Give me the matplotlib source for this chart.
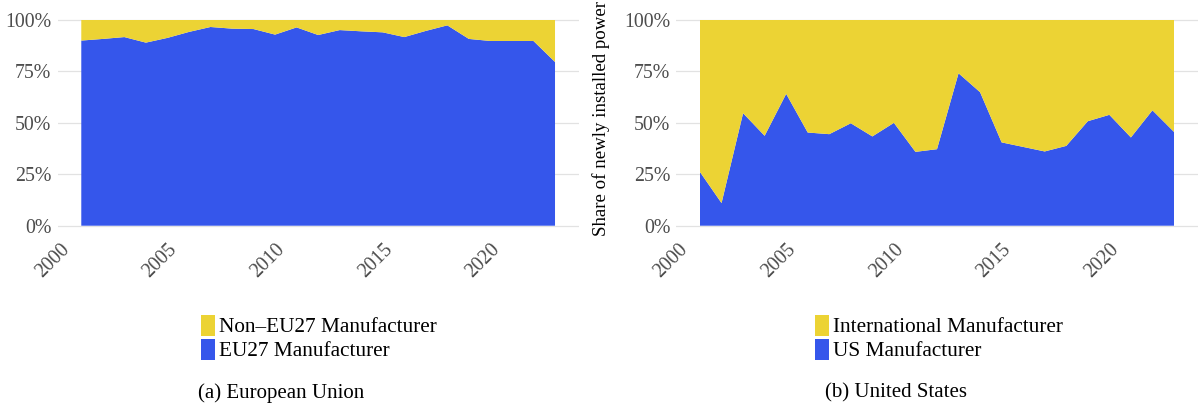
import numpy as np
import matplotlib
matplotlib.use('Agg')
import matplotlib.pyplot as plt
from matplotlib.ticker import PercentFormatter
from matplotlib.patches import Patch

plt.rcParams['font.family'] = ['Liberation Serif', 'DejaVu Serif']

years = np.arange(2001, 2024)

# share of newly installed power built by domestic manufacturers (%)
eu_share = [90.0, 90.8, 91.7, 89.0, 91.3, 94.2, 96.6, 95.8, 95.6, 92.9, 96.4, 92.7,
            95.1, 94.5, 94.0, 91.7, 94.7, 97.4, 90.8, 89.8, 89.8, 89.8, 79.6]
us_share = [26.1, 11.0, 54.7, 43.7, 64.1, 45.3, 44.5, 49.8, 43.4, 50.0, 35.9, 37.2,
            74.1, 64.9, 40.5, 38.3, 36.1, 38.8, 50.8, 53.9, 42.9, 56.1, 45.6]

eu_labels = ['Non\u2013EU27 Manufacturer', 'EU27 Manufacturer']
us_labels = ['International Manufacturer', 'US Manufacturer']
captions = ['(a) European Union', '(b) United States']

blue = '#3556EB'
yellow = '#ECD334'
grid_col = '#E2E2E2'
tick_col = '#4D4D4D'

W, H = 1201, 418
fig = plt.figure(figsize=(W / 100, H / 100), dpi=100)


def px_axes(x0, x1, y0, y1):
    # y0/y1 are pixel rows from the top
    return fig.add_axes([x0 / W, 1 - y1 / H, (x1 - x0) / W, (y1 - y0) / H])


pad = 0.02
unit = 225.7 - 20.0
top = 20.0 - pad * unit
bot = 225.7 + pad * unit
ax_eu = px_axes(57.6, 578.7, top, bot)
ax_us = px_axes(676.3, 1197.7, top, bot)

panels = [
    (ax_eu, eu_share, eu_labels, 319.0),
    (ax_us, us_share, us_labels, 939.0),
]

for ax, share, labels, leg_x in panels:
    own = np.array(share) / 100
    other = 1 - own
    ax.stackplot(years, own, other, colors=[blue, yellow], linewidth=0, zorder=2)

    ax.set_xlim(2001 - 1.1, 2023 + 1.1)
    ax.set_ylim(-pad, 1 + pad)
    ax.set_yticks([0, 0.25, 0.5, 0.75, 1.0])
    ax.yaxis.set_major_formatter(PercentFormatter(1.0, decimals=0))
    ax.set_xticks([2000, 2005, 2010, 2015, 2020])
    ax.grid(axis='y', color=grid_col, linewidth=0.9, zorder=0)
    ax.grid(axis='x', visible=False)
    for s in ax.spines.values():
        s.set_visible(False)
    ax.tick_params(axis='both', length=0, labelsize=14.3, colors=tick_col)
    ax.tick_params(axis='y', pad=4.4)
    ax.tick_params(axis='x', pad=7.5)
    for lab in ax.get_xticklabels():
        lab.set_rotation(45)
        lab.set_ha('right')
        lab.set_va('top')
        lab.set_rotation_mode('anchor')

    handles = [Patch(facecolor=yellow, edgecolor='none'),
               Patch(facecolor=blue, edgecolor='none')]
    fig.legend(handles, labels, loc='center',
               bbox_to_anchor=(leg_x / W, 1 - 338 / H),
               frameon=False, fontsize=15.3,
               handlelength=0.66, handleheight=1.15, handletextpad=0.2,
               labelspacing=0.05, borderpad=0, borderaxespad=0)

ax_us.set_ylabel('Share of newly installed power', fontsize=13.6, color='black')
ax_us.yaxis.set_label_coords(-66 / 521.4, (bot - 119) / (bot - top))

for cap, cx in zip(captions, [281.0, 896.0]):
    fig.text(cx / W, 1 - 393 / H, cap, ha='center', va='center', fontsize=15)

fig.savefig('out.png', dpi=100)
